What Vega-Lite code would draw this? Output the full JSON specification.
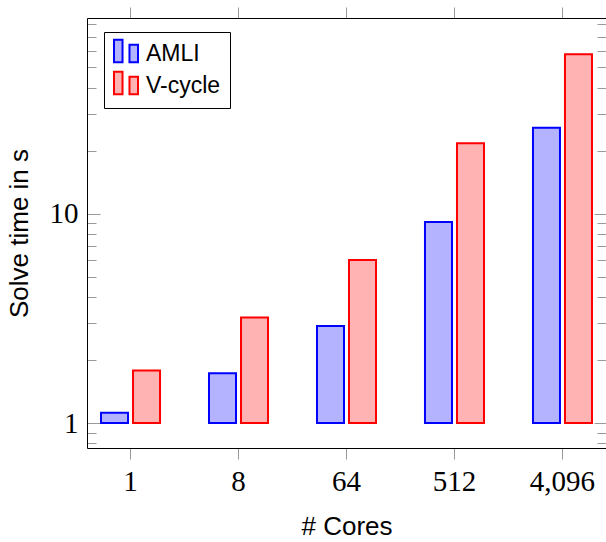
{
  "$schema": "https://vega.github.io/schema/vega-lite/v6.json",
  "width": 519,
  "height": 430,
  "autosize": "none",
  "padding": {"left": 87, "top": 18, "right": 0, "bottom": 94},
  "background": "white",
  "config": {"view": {"stroke": null}, "font": "Liberation Sans"},
  "data": {
    "values": [
      {"cores": 1, "method": "AMLI", "time": 1.12},
      {"cores": 8, "method": "AMLI", "time": 1.73},
      {"cores": 64, "method": "AMLI", "time": 2.91},
      {"cores": 512, "method": "AMLI", "time": 9.13},
      {"cores": 4096, "method": "AMLI", "time": 25.7},
      {"cores": 1, "method": "V-cycle", "time": 1.78},
      {"cores": 8, "method": "V-cycle", "time": 3.19},
      {"cores": 64, "method": "V-cycle", "time": 6.01},
      {"cores": 512, "method": "V-cycle", "time": 21.7},
      {"cores": 4096, "method": "V-cycle", "time": 57.6}
    ]
  },
  "layer": [
    {
      "mark": {"type": "bar", "strokeWidth": 2},
      "encoding": {
        "x": {
          "field": "cores",
          "type": "ordinal",
          "sort": "ascending",
          "scale": {"paddingInner": 0.194, "paddingOuter": 0},
          "axis": {
            "orient": "bottom",
            "labelExpr": "format(datum.value, ',')",
            "labelAngle": 0,
            "labelFont": "Liberation Serif",
            "labelFontSize": 29,
            "labelColor": "black",
            "labelPadding": 8,
            "tickSize": 11,
            "tickColor": "#999999",
            "tickWidth": 1,
            "domainColor": "black",
            "domainWidth": 1,
            "title": "# Cores",
            "titleFont": "Liberation Sans",
            "titleFontSize": 26,
            "titleFontWeight": "normal",
            "titleColor": "black",
            "titlePadding": 17
          }
        },
        "xOffset": {
          "field": "method",
          "type": "nominal",
          "sort": ["AMLI", "V-cycle"],
          "scale": {"paddingInner": 0.156, "paddingOuter": 0.4375}
        },
        "y": {
          "field": "time",
          "type": "quantitative",
          "scale": {"type": "log", "domain": [0.76, 85.9], "nice": false, "zero": false},
          "axis": {
            "orient": "left",
            "values": [0.8, 0.9, 1, 2, 3, 4, 5, 6, 7, 8, 9, 10, 20, 30, 40, 50, 60, 70, 80],
            "labelExpr": "datum.value == 1 ? '1' : (datum.value == 10 ? '10' : '')",
            "labelOverlap": false,
            "labelFont": "Liberation Serif",
            "labelFontSize": 29,
            "labelColor": "black",
            "labelPadding": 22,
            "tickSize": {"condition": {"test": "datum.value == 1 || datum.value == 10", "value": -13}, "value": -9},
            "tickColor": "#999999",
            "tickWidth": 1,
            "domainColor": "black",
            "domainWidth": 1,
            "grid": false,
            "title": "Solve time in s",
            "titleFont": "Liberation Sans",
            "titleFontSize": 26,
            "titleFontWeight": "normal",
            "titleColor": "black",
            "titlePadding": 17
          }
        },
        "y2": {"datum": 1},
        "fill": {
          "field": "method",
          "type": "nominal",
          "scale": {"domain": ["AMLI", "V-cycle"], "range": ["#b3b3ff", "#ffb3b3"]},
          "legend": {
            "orient": "none",
            "legendX": 17,
            "legendY": 14,
            "title": null,
            "symbolType": "M-1,-1.19H-0.29V0.69H-1Z M0.29,-0.78H1V0.69H0.29Z",
            "symbolSize": 576,
            "symbolStrokeWidth": 2,
            "symbolOpacity": 1,
            "labelFont": "Liberation Sans",
            "labelFontSize": 23,
            "labelColor": "black",
            "labelOffset": 7,
            "strokeColor": "black",
            "fillColor": "white",
            "padding": 9,
            "rowPadding": 0
          }
        },
        "stroke": {
          "field": "method",
          "type": "nominal",
          "scale": {"domain": ["AMLI", "V-cycle"], "range": ["#0000ff", "#ff0000"]},
          "legend": {
            "orient": "none",
            "legendX": 17,
            "legendY": 14,
            "title": null,
            "symbolType": "M-1,-1.19H-0.29V0.69H-1Z M0.29,-0.78H1V0.69H0.29Z",
            "symbolSize": 576,
            "symbolStrokeWidth": 2,
            "symbolOpacity": 1,
            "labelFont": "Liberation Sans",
            "labelFontSize": 23,
            "labelColor": "black",
            "labelOffset": 7,
            "strokeColor": "black",
            "fillColor": "white",
            "padding": 9,
            "rowPadding": 0
          }
        }
      }
    },
    {
      "mark": {"type": "tick", "opacity": 0},
      "encoding": {
        "x": {
          "field": "cores",
          "type": "ordinal",
          "sort": "ascending",
          "axis": {
            "orient": "top",
            "labels": false,
            "tickSize": 11,
            "tickColor": "#999999",
            "tickWidth": 1,
            "domainColor": "black",
            "domainWidth": 1,
            "title": null
          }
        },
        "y": {
          "field": "time",
          "type": "quantitative",
          "axis": {
            "orient": "right",
            "values": [0.8, 0.9, 1, 2, 3, 4, 5, 6, 7, 8, 9, 10, 20, 30, 40, 50, 60, 70, 80],
            "labels": false,
            "tickSize": {"condition": {"test": "datum.value == 1 || datum.value == 10", "value": -12}, "value": -9},
            "tickColor": "#999999",
            "tickWidth": 1,
            "domain": false,
            "grid": false,
            "title": null
          }
        }
      }
    }
  ],
  "resolve": {"axis": {"x": "independent", "y": "independent"}}
}
